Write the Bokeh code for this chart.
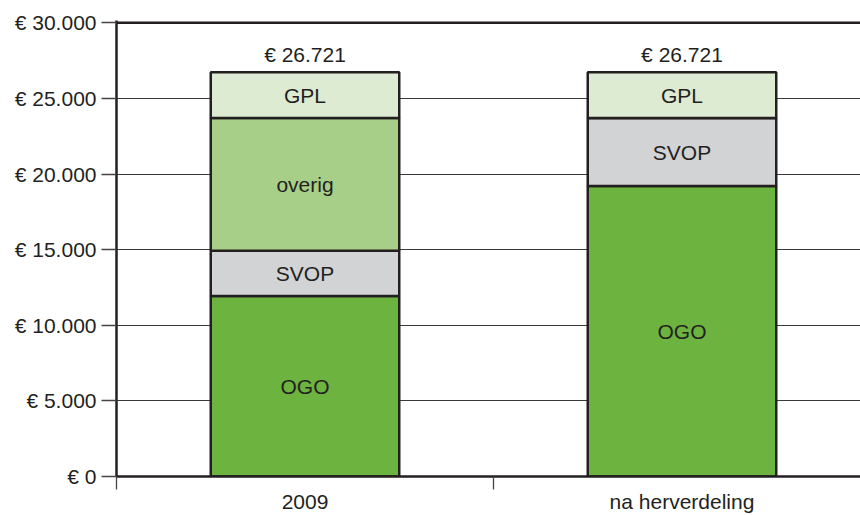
from bokeh.plotting import figure
from bokeh.models import ColumnDataSource, FixedTicker, Span, Range1d
from bokeh.core.properties import value
from bokeh.embed import file_html
from bokeh.resources import INLINE

# ---- data ----
categories = ["2009", "na herverdeling"]
segments = ["OGO", "SVOP", "overig", "GPL"]
ogo = [11940, 19210]
svop = [2980, 4490]
overig = [8780, 0]
gpl = [3021, 3021]
total_labels = ["€ 26.721", "€ 26.721"]
y_ticks = [0, 5000, 10000, 15000, 20000, 25000, 30000]
y_tick_labels = ["€ 0", "€ 5.000", "€ 10.000", "€ 15.000", "€ 20.000", "€ 25.000", "€ 30.000"]
colors = ["#6cb33f", "#d1d3d4", "#a8cf88", "#deebd3"]

FONT = "Liberation Sans"
INK = "#231f20"
FS = "21px"

series = {"OGO": ogo, "SVOP": svop, "overig": overig, "GPL": gpl}
xs = [i + 0.5 for i in range(len(categories))]

data = {"x": xs}
data.update(series)
source = ColumnDataSource(data)

p = figure(width=860, height=515, output_backend="svg", toolbar_location=None,
           x_range=Range1d(0, 1.9735), y_range=Range1d(0, 30150),
           min_border_left=116, min_border_right=0, min_border_top=20, min_border_bottom=38)
p.outline_line_color = None
p.background_fill_color = "white"

p.vbar_stack(segments, x="x", width=0.5, source=source, color=colors,
             line_color=INK, line_width=2.5)

# segment labels
lx, ly, lt = [], [], []
for i in range(len(categories)):
    base = 0
    for s in segments:
        v = series[s][i]
        if v > 0:
            lx.append(xs[i]); ly.append(base + v / 2); lt.append(s)
        base += v
p.text(x=lx, y=ly, text=lt, text_align="center", text_baseline="middle",
       text_font=value(FONT), text_font_size=FS, text_color=INK)

# totals
tot = [sum(series[s][i] for s in segments) for i in range(len(categories))]
p.text(x=xs, y=tot, text=total_labels, text_align="center", text_baseline="bottom",
       y_offset=-6, text_font=value(FONT), text_font_size=FS, text_color=INK)

p.add_layout(Span(location=y_ticks[-1], dimension="width", line_color=INK, line_width=2.5))

# y axis
yax = p.yaxis[0]
yax.ticker = FixedTicker(ticks=y_ticks, minor_ticks=[])
yax.major_label_overrides = {t: l for t, l in zip(y_ticks, y_tick_labels)}
yax.axis_line_color = INK
yax.axis_line_width = 2.5
yax.major_tick_in = 0
yax.major_tick_out = 15
yax.major_tick_line_color = "#444444"
yax.major_tick_line_width = 1.3
yax.major_label_standoff = 5
yax.major_label_text_font = FONT
yax.major_label_text_font_size = FS
yax.major_label_text_color = INK

# x axis
xax = p.xaxis[0]
xax.ticker = FixedTicker(ticks=xs, minor_ticks=list(range(len(categories) + 1)))
xax.major_label_overrides = {x: c for x, c in zip(xs, categories)}
xax.axis_line_color = INK
xax.axis_line_width = 2.5
xax.major_tick_in = 0
xax.major_tick_out = 0
xax.minor_tick_in = 0
xax.minor_tick_out = 13
xax.minor_tick_line_color = "#444444"
xax.minor_tick_line_width = 1.3
xax.major_label_standoff = 0
xax.major_label_text_font = FONT
xax.major_label_text_font_size = FS
xax.major_label_text_color = INK

p.xgrid.visible = False
p.ygrid.ticker = FixedTicker(ticks=y_ticks, minor_ticks=[])
p.ygrid.grid_line_color = "#3a3a3a"
p.ygrid.grid_line_width = 1.1

open("out.html", "w").write(file_html(p, INLINE))
